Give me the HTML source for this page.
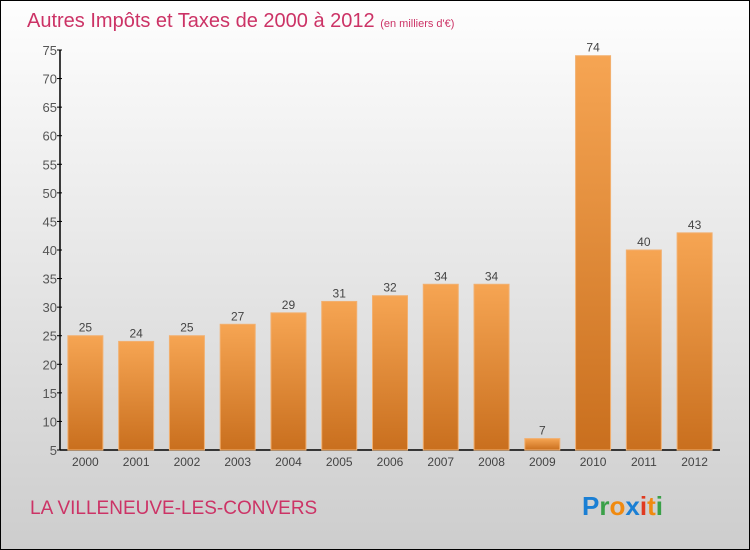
<!DOCTYPE html>
<html><head><meta charset="utf-8"><style>
body{margin:0}
#c{width:750px;height:550px;position:relative;box-sizing:border-box;border:1px solid #000;background:linear-gradient(#fefefe,#cdcdcd);font-family:"Liberation Sans",sans-serif;overflow:hidden}
</style></head><body>
<div id="c">
<svg width="750" height="550" style="position:absolute;left:-1px;top:-1px">
<defs><linearGradient id="g" x1="0" y1="0" x2="0" y2="1"><stop offset="0" stop-color="#f6a553"/><stop offset="1" stop-color="#c96f1e"/></linearGradient></defs>
<text x="27" y="27" font-size="20" fill="#cc3366">Autres Impôts et Taxes de 2000 à 2012 <tspan font-size="11">(en milliers d'€)</tspan></text>
<g id="axes"></g><g id="bars"></g>
<text x="30" y="514" font-size="19" fill="#cc3366">LA VILLENEUVE-LES-CONVERS</text>
<text x="582" y="515" font-size="26" font-weight="bold"><tspan fill="#1a7fd4">P</tspan><tspan fill="#3aa048">r</tspan><tspan fill="#f08a10">o</tspan><tspan fill="#1a7fd4">x</tspan><tspan fill="#e03a20">i</tspan><tspan fill="#f08a10">t</tspan><tspan fill="#3aa048">i</tspan></text>
</svg>
</div>
<script>
const years=["2000","2001","2002","2003","2004","2005","2006","2007","2008","2009","2010","2011","2012"];
const values=[25,24,25,27,29,31,32,34,34,7,74,40,43];
const ticks=[5,10,15,20,25,30,35,40,45,50,55,60,65,70,75];
const NS="http://www.w3.org/2000/svg";
const x0=60,x1=720,yTop=50,yBot=450,vMin=5,vMax=75;
const y=v=>yBot-(v-vMin)/(vMax-vMin)*(yBot-yTop);
const bw=(x1-x0)/years.length;
const xc=i=>x0+bw*(i+0.5);
function mk(t,a,p){const e=document.createElementNS(NS,t);for(const k in a)e.setAttribute(k,a[k]);p.appendChild(e);return e;}
const ax=document.getElementById('axes'),bg=document.getElementById('bars');
let l=mk('line',{x1:x0,y1:yTop,x2:x0,y2:yBot,stroke:'#000','stroke-width':1.5},ax);


l=mk('line',{x1:x0,y1:yBot,x2:x1,y2:yBot,stroke:'#000','stroke-width':1.5},ax);


ticks.forEach(t=>{
 mk('line',{x1:x0-3,y1:y(t),x2:x0+2,y2:y(t),stroke:'#000'},ax);
 const tx=mk('text',{x:x0-3,y:y(t)+5,'font-size':13,fill:'#555','text-anchor':'end'},ax);
 tx.textContent=t;
 
 
});
years.forEach((yr,i)=>{
 const v=values[i];
 const r=mk('rect',{x:xc(i)-17.5,y:y(v),width:35,height:yBot-y(v),fill:'url(#g)',stroke:'#f2b070','stroke-width':1},bg);
 
 
 const lt=mk('text',{x:xc(i),y:y(v)-4,'font-size':12,fill:'#444','text-anchor':'middle'},bg);
 lt.textContent=v;
 
 
 const xt=mk('text',{x:xc(i),y:466,'font-size':12,fill:'#444','text-anchor':'middle'},ax);
 xt.textContent=yr;
 
 
});
</script>
</body></html>
